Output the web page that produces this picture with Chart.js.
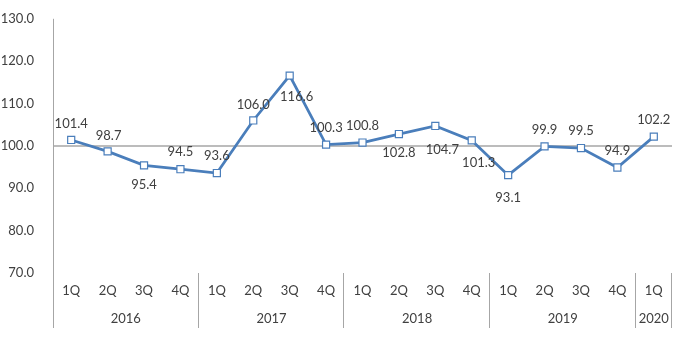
<!DOCTYPE html>
<html>
<head>
<meta charset="utf-8">
<script src="https://cdn.jsdelivr.net/npm/chart.js@4"></script>
<style>
  html, body { margin: 0; padding: 0; background: #fff; }
  #wrap { width: 680px; height: 340px; position: relative; }
</style>
</head>
<body>
<div id="wrap"><canvas id="myChart"></canvas></div>
<script>
const quarters = ['1Q', '2Q', '3Q', '4Q', '1Q', '2Q', '3Q', '4Q', '1Q', '2Q', '3Q', '4Q', '1Q', '2Q', '3Q', '4Q', '1Q'];
const years = ['2016', '2017', '2018', '2019', '2020'];
const yearSizes = [4, 4, 4, 4, 1];
const values = [101.4, 98.7, 95.4, 94.5, 93.6, 106.0, 116.6, 100.3, 100.8, 102.8, 104.7, 101.3, 93.1, 99.9, 99.5, 94.9, 102.2];
const yTicks = [70, 80, 90, 100, 110, 120, 130];

// where each value label sits relative to its point [dx, dy]
const labelShift = [
  [0, -16], [1, -16], [0, 19], [0, -17], [0, -17], [0, -16], [7, 21], [0, -17], [0, -17],
  [0, 19], [7, 24], [7, 22], [0, 23], [0, -17], [0, -17], [0, -17], [0, -17]
];

const FONT = 'Lato, "Open Sans", sans-serif';
const TEXT = '#404040';
const AXIS = '#a6a6a6';

const axisExtras = {
  id: 'axisExtras',
  beforeDatasetsDraw(chart) {
    const { ctx, chartArea: a, scales: { x, y } } = chart;
    const y100 = y.getPixelForValue(100);
    ctx.save();
    ctx.strokeStyle = AXIS;
    ctx.lineWidth = 1.5;
    ctx.beginPath();
    ctx.moveTo(a.left, y100);
    ctx.lineTo(a.right, y100);
    ctx.stroke();

    // y axis line and group separators
    const step = (a.right - a.left) / quarters.length;
    const bottom = chart.height - 12;
    ctx.lineWidth = 1;
    ctx.beginPath();
    ctx.moveTo(a.left + 0.5, a.top);
    ctx.lineTo(a.left + 0.5, bottom);
    let k = 0;
    yearSizes.forEach(n => {
      k += n;
      const px = Math.round(a.left + step * k) - 0.5;
      ctx.moveTo(px, a.bottom);
      ctx.lineTo(px, bottom);
    });
    ctx.stroke();

    // category labels
    ctx.fillStyle = TEXT;
    ctx.font = '13px ' + FONT;
    ctx.textAlign = 'center';
    ctx.textBaseline = 'middle';
    quarters.forEach((q, i) => {
      ctx.fillText(q, x.getPixelForValue(i), a.bottom + 18);
    });
    k = 0;
    years.forEach((yr, j) => {
      const cx = a.left + step * (k + yearSizes[j] / 2);
      ctx.fillText(yr, cx, a.bottom + 46);
      k += yearSizes[j];
    });
    ctx.restore();
  },
  afterDatasetsDraw(chart) {
    const { ctx } = chart;
    const meta = chart.getDatasetMeta(0);
    ctx.save();
    ctx.fillStyle = TEXT;
    ctx.font = '13px ' + FONT;
    ctx.textAlign = 'center';
    ctx.textBaseline = 'middle';
    meta.data.forEach((pt, i) => {
      const [dx, dy] = labelShift[i];
      ctx.fillText(values[i].toFixed(1), pt.x + dx, pt.y + dy);
    });
    ctx.restore();
  }
};

const config = {
  type: 'line',
  data: {
    labels: quarters,
    datasets: [{
      data: values,
      borderColor: '#4a7ebb',
      borderWidth: 2.75,
      tension: 0,
      pointStyle: 'rect',
      pointRadius: 5,
      pointBorderWidth: 1.2,
      pointBackgroundColor: '#ffffff',
      pointBorderColor: '#4a7ebb'
    }]
  },
  options: {
    responsive: true,
    maintainAspectRatio: false,
    animation: false,
    events: [],
    layout: { padding: { top: 17, right: 8, left: 0, bottom: 0 } },
    plugins: { legend: { display: false }, tooltip: { enabled: false } },
    scales: {
      x: {
        offset: true,
        grid: { display: false },
        border: { display: false },
        ticks: { display: false },
        afterFit(scale) { scale.height = 67; }
      },
      y: {
        min: 70,
        max: 130,
        afterBuildTicks(scale) { scale.ticks = yTicks.map(v => ({ value: v })); },
        grid: { display: false },
        border: { display: false },
        ticks: {
          padding: 11,
          color: TEXT,
          font: { family: FONT, size: 13 },
          callback: v => Number(v).toFixed(1)
        },
        afterFit(scale) { scale.width = 53; }
      }
    }
  },
  plugins: [axisExtras]
};

var myChart = new Chart(document.getElementById('myChart'), config);
</script>
</body>
</html>
